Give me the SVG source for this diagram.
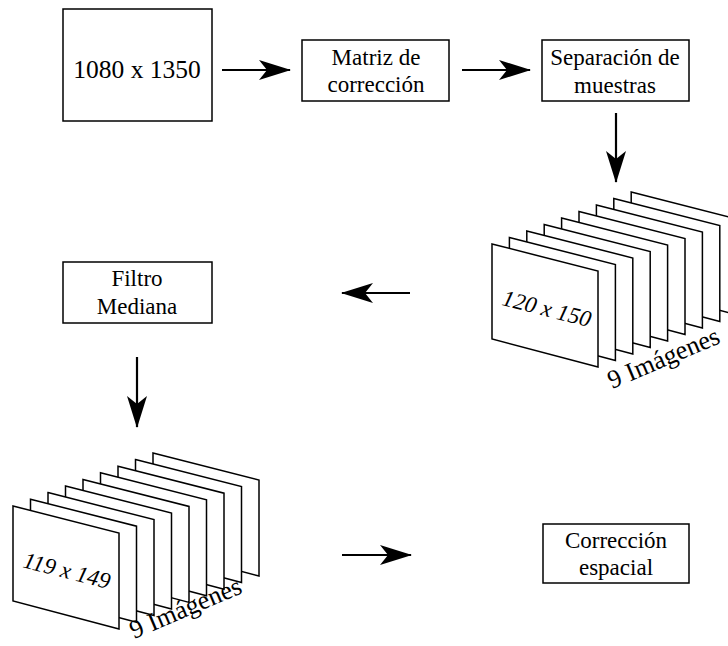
<svg xmlns="http://www.w3.org/2000/svg" xmlns:xlink="http://www.w3.org/1999/xlink" width="728" height="646" viewBox="0 0 728 646">
  <style>
    .box { fill: #fff; stroke: #000; stroke-width: 1.5; }
    .lbl { font-family: "Liberation Serif", "Times New Roman", serif; font-size: 23px; fill: #000; text-anchor: middle; }
    .big { font-size: 25.5px; }
    .dim { font-family: "Liberation Serif", "Times New Roman", serif; font-size: 23px; font-style: italic; fill: #000; text-anchor: middle; }
    .cnt { font-family: "Liberation Serif", "Times New Roman", serif; font-size: 26px; fill: #000; }
    .edge { stroke: #000; stroke-width: 2.2; fill: none; }
    .frame { fill: #fff; stroke: #000; stroke-width: 1.5; stroke-linejoin: miter; }
  </style>
  <defs>
    <marker id="head" viewBox="0 0 32 20" refX="31" refY="10" markerWidth="32" markerHeight="20" markerUnits="userSpaceOnUse" orient="auto">
      <path d="M0,0 L32,10 L0,20 L8,10 Z" fill="#000"/>
    </marker>
    <!-- one slanted image sheet -->
    <polygon id="sheet" class="frame" points="0,0 106,27 106,123 0,95"/>
  </defs>

  <rect width="728" height="646" fill="#fff"/>

  <g id="connectors">
    <line class="edge" x1="222" y1="70" x2="290" y2="70" marker-end="url(#head)"/>
    <line class="edge" x1="462" y1="70" x2="530" y2="70" marker-end="url(#head)"/>
    <line class="edge" x1="616" y1="113" x2="616" y2="182" marker-end="url(#head)"/>
    <line class="edge" x1="410" y1="293" x2="342" y2="293" marker-end="url(#head)"/>
    <line class="edge" x1="137" y1="357" x2="137" y2="427" marker-end="url(#head)"/>
    <line class="edge" x1="342" y1="555" x2="411" y2="555" marker-end="url(#head)"/>
  </g>

  <g id="input">
    <rect class="box" x="63" y="9" width="149" height="112"/>
    <text class="lbl big" x="137" y="78">1080 x 1350</text>
  </g>

  <g id="matriz">
    <rect class="box" x="302" y="40" width="147" height="61"/>
    <text class="lbl" x="376" y="65">Matriz de</text>
    <text class="lbl" x="376" y="92">corrección</text>
  </g>

  <g id="separacion">
    <rect class="box" x="542" y="40" width="147" height="61"/>
    <text class="lbl" x="615" y="65">Separación de</text>
    <text class="lbl" x="615" y="93">muestras</text>
  </g>

  <g id="stack-120x150">
    <use xlink:href="#sheet" x="631.2" y="192"/>
    <use xlink:href="#sheet" x="613.8" y="198.5"/>
    <use xlink:href="#sheet" x="596.4" y="205"/>
    <use xlink:href="#sheet" x="579" y="211.5"/>
    <use xlink:href="#sheet" x="561.6" y="218"/>
    <use xlink:href="#sheet" x="544.2" y="224.5"/>
    <use xlink:href="#sheet" x="526.8" y="231"/>
    <use xlink:href="#sheet" x="509.4" y="237.5"/>
    <use xlink:href="#sheet" x="492" y="244"/>
    <text class="dim" transform="translate(545,316) rotate(14.3)">120 x 150</text>
    <text class="cnt" transform="translate(612,389) rotate(-23)">9 Imágenes</text>
  </g>

  <g id="filtro">
    <rect class="box" x="63" y="262" width="149" height="61"/>
    <text class="lbl" x="137" y="286">Filtro</text>
    <text class="lbl" x="137" y="314">Mediana</text>
  </g>

  <g id="stack-119x149">
    <use xlink:href="#sheet" x="153" y="453"/>
    <use xlink:href="#sheet" x="135.5" y="459.6"/>
    <use xlink:href="#sheet" x="118" y="466.2"/>
    <use xlink:href="#sheet" x="100.5" y="472.8"/>
    <use xlink:href="#sheet" x="83" y="479.4"/>
    <use xlink:href="#sheet" x="65.5" y="486"/>
    <use xlink:href="#sheet" x="48" y="492.6"/>
    <use xlink:href="#sheet" x="30.5" y="499.2"/>
    <use xlink:href="#sheet" x="13" y="506"/>
    <text class="dim" transform="translate(65,578) rotate(14.3)">119 x 149</text>
    <text class="cnt" transform="translate(134,639) rotate(-23)">9 Imágenes</text>
  </g>

  <g id="correccion">
    <rect class="box" x="543" y="524" width="146" height="59"/>
    <text class="lbl" x="616" y="548">Corrección</text>
    <text class="lbl" x="616" y="575">espacial</text>
  </g>
</svg>
